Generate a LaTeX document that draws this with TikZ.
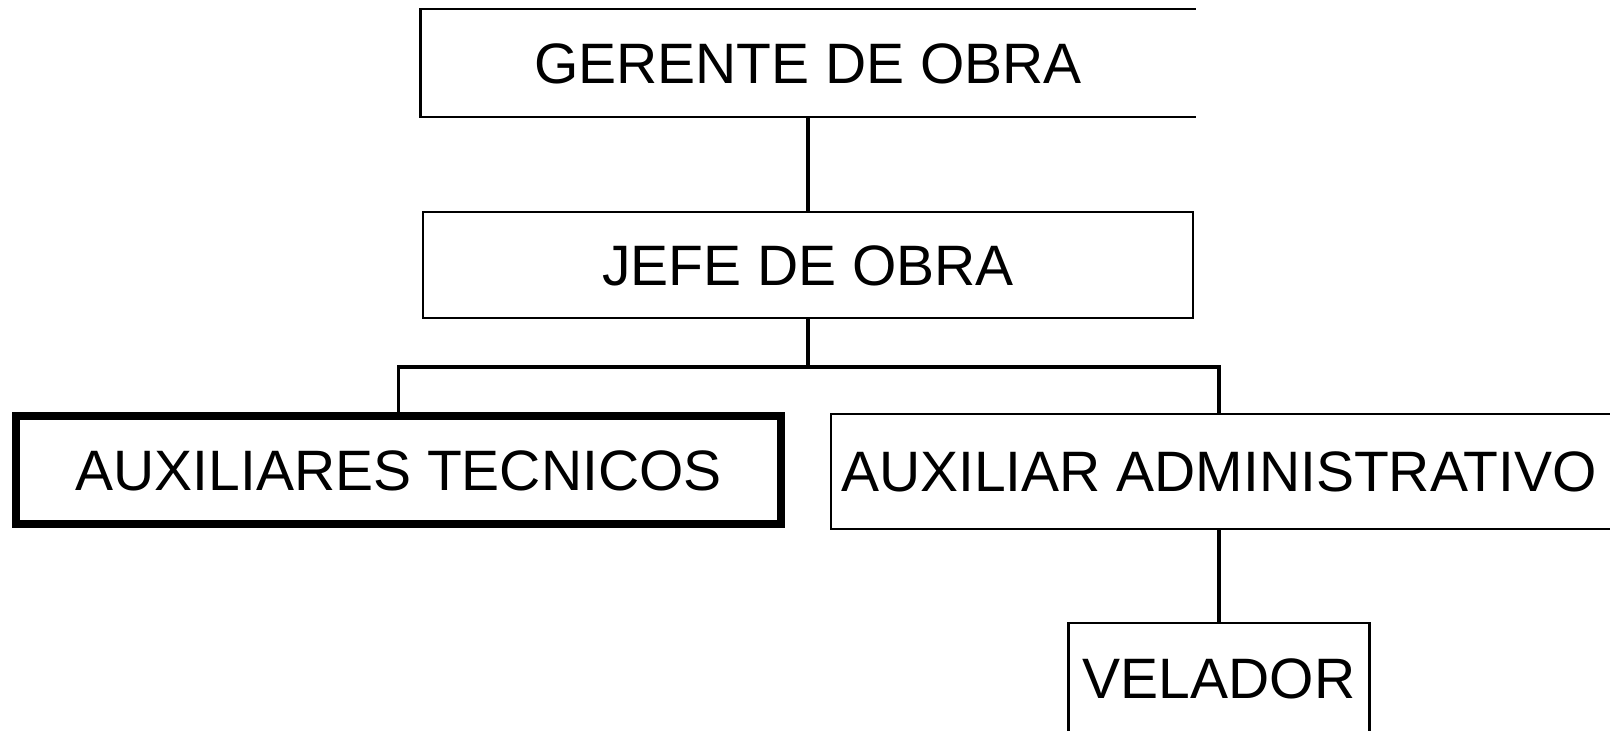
\documentclass[tikz,border=0pt]{standalone}
\usepackage{fontspec}
\setmainfont{Liberation Sans}
\begin{document}
\begin{tikzpicture}[x=0.5pt,y=-0.5pt,
  box/.style={draw=black, line width=1.1pt, inner sep=0pt, fill=white,
    font=\fontsize{28.5pt}{30pt}\selectfont, text height=20.4pt, text depth=0pt},
  openbox/.style={box, draw=none},
  thickbox/.style={box, line width=3.75pt},
  edge/.style={draw=black, line width=1.1pt},
  conn/.style={draw=black, line width=1.6pt}]
\useasboundingbox (0,0) rectangle (1610,731);
\begin{scope}
\clip (0,0) rectangle (1610,731);
\node[openbox, minimum width=386.5pt, minimum height=53pt] (ger) at (808,63) {GERENTE DE OBRA};
\draw[edge] (ger.north east) -- (ger.north west) -- (ger.south west) -- (ger.south east);
\node[box, minimum width=385pt, minimum height=53pt] (jefe) at (808,265) {JEFE DE OBRA};
\node[thickbox, minimum width=382.5pt, minimum height=54pt] (tec) at (398.5,470) {AUXILIARES TECNICOS};
\node[openbox, minimum width=387pt, minimum height=56.5pt] (adm) at (1219,471.5) {AUXILIAR ADMINISTRATIVO};
\draw[edge] ([xshift=6pt]adm.north east) -- (adm.north west) -- (adm.south west) -- ([xshift=6pt]adm.south east);
\node[box, minimum width=150.5pt, minimum height=55.5pt] (vel) at (1219,678.5) {VELADOR};
\coordinate (bar) at (0,367);
\draw[conn] (ger.south) -- (jefe.north);
\draw[conn] (jefe.south) -- (jefe.south |- bar);
\draw[conn] (tec.north) |- (adm.north |- bar) -- (adm.north);
\draw[conn] (adm.south) -- (vel.north);
\end{scope}
\end{tikzpicture}
\end{document}
